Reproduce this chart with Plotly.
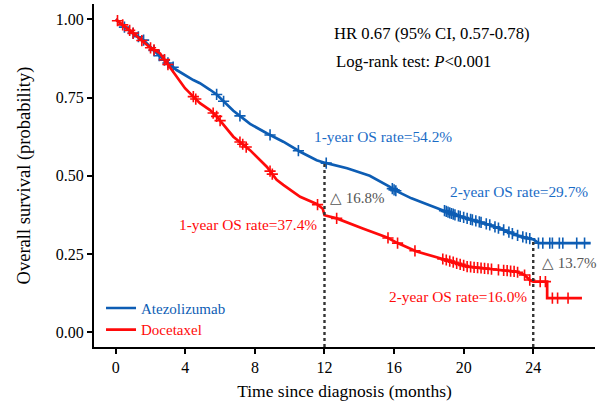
import numpy as np
import plotly.graph_objects as go

# ---- data ----
atezo_t = [0, 0.5, 1.0, 1.59, 2.55, 3.5, 4.46, 4.84, 5.42, 5.8, 6.76, 7.72, 8.68, 9.63, 10.6,
           11.55, 12.0, 13.3, 14.6, 15.76, 16.0, 17.0, 18.0, 18.8, 19.5, 20.5, 21.5, 22.3,
           23.0, 23.7, 24.0, 24.3, 27.3]
atezo_s = [1.0, 0.975, 0.955, 0.934, 0.881, 0.838, 0.806, 0.796, 0.775, 0.760, 0.708, 0.666,
           0.636, 0.609, 0.577, 0.550, 0.542, 0.524, 0.500, 0.465, 0.455, 0.428, 0.407, 0.391,
           0.375, 0.359, 0.343, 0.327, 0.311, 0.300, 0.297, 0.285, 0.285]
doce_t = [0, 0.5, 1.0, 1.97, 2.55, 3.02, 3.5, 3.98, 4.46, 4.84, 5.42, 5.8, 6.76, 7.72, 8.68,
          9.25, 9.63, 10.6, 11.55, 11.9, 12.0, 12.7, 14.2, 15.6, 16.2, 17.3, 19.0, 20.2, 22.1,
          23.0, 23.5, 23.8, 24.0, 24.8, 24.8, 26.8]
doce_s = [1.0, 0.978, 0.956, 0.910, 0.891, 0.854, 0.817, 0.780, 0.753, 0.732, 0.710, 0.690,
          0.625, 0.582, 0.529, 0.487, 0.471, 0.433, 0.410, 0.395, 0.374, 0.364, 0.332, 0.303,
          0.285, 0.258, 0.231, 0.210, 0.199, 0.194, 0.183, 0.167, 0.162, 0.162, 0.109, 0.109]
atezo_censor = [0.5, 1.0, 1.3, 1.6, 2.2, 2.5, 2.8, 3.0, 3.3, 5.8, 6.2, 7.14, 8.87, 10.5, 12.1,
                15.9, 16.0, 16.1, 18.9, 19.0, 19.1, 19.2, 19.3, 19.4, 19.5, 19.7, 19.8, 20.0,
                20.2, 20.4, 20.5, 20.7, 20.9, 21.0, 21.3, 21.5, 21.8, 22.0, 22.3, 22.6, 22.8,
                23.1, 23.4, 23.6, 23.8, 24.3, 24.55, 24.95, 25.1, 25.5, 25.7, 26.5, 26.95]
doce_censor = [0.1, 0.4, 0.8, 1.0, 1.5, 2.0, 2.2, 2.8, 3.0, 4.46, 4.6, 5.6, 5.8, 6.0, 7.14,
               7.3, 7.5, 8.87, 9.0, 11.6, 12.7, 15.65, 16.2, 17.2, 18.8, 19.0, 19.2, 19.4,
               19.6, 19.8, 20.0, 20.2, 20.4, 20.6, 20.8, 21.0, 21.2, 21.4, 21.6, 22.0, 22.3,
               22.5, 22.7, 22.9, 23.1, 23.5, 23.8, 24.4, 24.7, 25.1, 25.4, 26.0]
one_year = {"Atezolizumab": 54.2, "Docetaxel": 37.4}
two_year = {"Atezolizumab": 29.7, "Docetaxel": 16.0}
x_ticks = [0, 4, 8, 12, 16, 20, 24]
y_ticks = [0.0, 0.25, 0.5, 0.75, 1.0]

BLUE = "#0d5db4"
BLUE_T = "#1a6cc6"
RED = "#ff0a0a"
GREY = "#555555"
FONT = "Liberation Serif"

XR = [-1.25, 27.55]
YR = [-0.047, 1.049]


def censor_y(ct, t, s):
    return np.interp(ct, np.asarray(t), np.asarray(s))


fig = go.Figure()
for name, t, s, ct, col, leg in [("Atezolizumab", atezo_t, atezo_s, atezo_censor, BLUE, "legend"),
                                 ("Docetaxel", doce_t, doce_s, doce_censor, RED, "legend2")]:
    fig.add_trace(go.Scatter(x=t, y=s, mode="lines", line=dict(color=col, width=2.7),
                             name=f"<span style='color:{col}'>{name}</span>", showlegend=True,
                             legend=leg))
    fig.add_trace(go.Scatter(x=ct, y=censor_y(ct, t, s), mode="markers", showlegend=False,
                             marker=dict(symbol="cross-thin", size=8,
                                         line=dict(color=col, width=1.6), color=col)))

# dotted reference lines at 12 and 24 months
fig.add_shape(type="line", x0=12, x1=12, y0=YR[0], y1=one_year["Atezolizumab"] / 100,
              line=dict(color="#333333", width=2.4, dash="dot"))
fig.add_shape(type="line", x0=24, x1=24, y0=YR[0], y1=two_year["Atezolizumab"] / 100,
              line=dict(color="#333333", width=2.4, dash="dot"))

ann = [
    (12.41, 0.956, "HR 0.67 (95% CI, 0.57-0.78)", "black", 16.7),
    (12.56, 0.865, "Log-rank test: <i>P</i>&lt;0.001", "black", 16.7),
    (11.26, 0.625, f"1-year OS rate={one_year['Atezolizumab']:.1f}%", BLUE_T, 15.4),
    (19.11, 0.449, f"2-year OS rate={two_year['Atezolizumab']:.1f}%", BLUE_T, 15.4),
    (3.51, 0.343, f"1-year OS rate={one_year['Docetaxel']:.1f}%", RED, 15.4),
    (15.61, 0.114, f"2-year OS rate={two_year['Docetaxel']:.1f}%", RED, 15.4),
    (12.22, 0.428, f"△ {one_year['Atezolizumab'] - one_year['Docetaxel']:.1f}%", GREY, 15),
    (24.39, 0.220, f"△ {two_year['Atezolizumab'] - two_year['Docetaxel']:.1f}%", GREY, 15),
]
for x, y, txt, col, sz in ann:
    fig.add_annotation(x=x, y=y, text=txt, showarrow=False, xanchor="left", yanchor="middle",
                       font=dict(family=FONT, size=sz, color=col))

axis_common = dict(showline=True, linewidth=2, linecolor="black", ticks="outside", ticklen=5,
                   tickwidth=2, tickcolor="black", showgrid=False, zeroline=False,
                   tickfont=dict(family=FONT, size=16, color="black"))
fig.update_xaxes(range=XR, tickvals=x_ticks, ticktext=[str(v) for v in x_ticks],
                 title=dict(text="Time since diagnosis (months)",
                            font=dict(family=FONT, size=17.5, color="black"), standoff=10),
                 **axis_common)
fig.update_yaxes(range=YR, tickvals=y_ticks, ticktext=[f"{v:.2f}" for v in y_ticks],
                 title=dict(text="Overall survival (probability)",
                            font=dict(family=FONT, size=18.5, color="black"), standoff=20),
                 **axis_common)

leg_common = dict(xanchor="left", yanchor="middle", bgcolor="rgba(0,0,0,0)",
                  font=dict(family=FONT, size=15), itemwidth=30)
fig.update_layout(
    width=600, height=406, margin=dict(l=94, r=5, t=4, b=59),
    plot_bgcolor="white", paper_bgcolor="white", font=dict(family=FONT, color="black"),
    legend=dict(x=0.014, y=0.113, **leg_common),
    legend2=dict(x=0.014, y=0.05, **leg_common),
    showlegend=True,
)
fig.write_html("out.html")
